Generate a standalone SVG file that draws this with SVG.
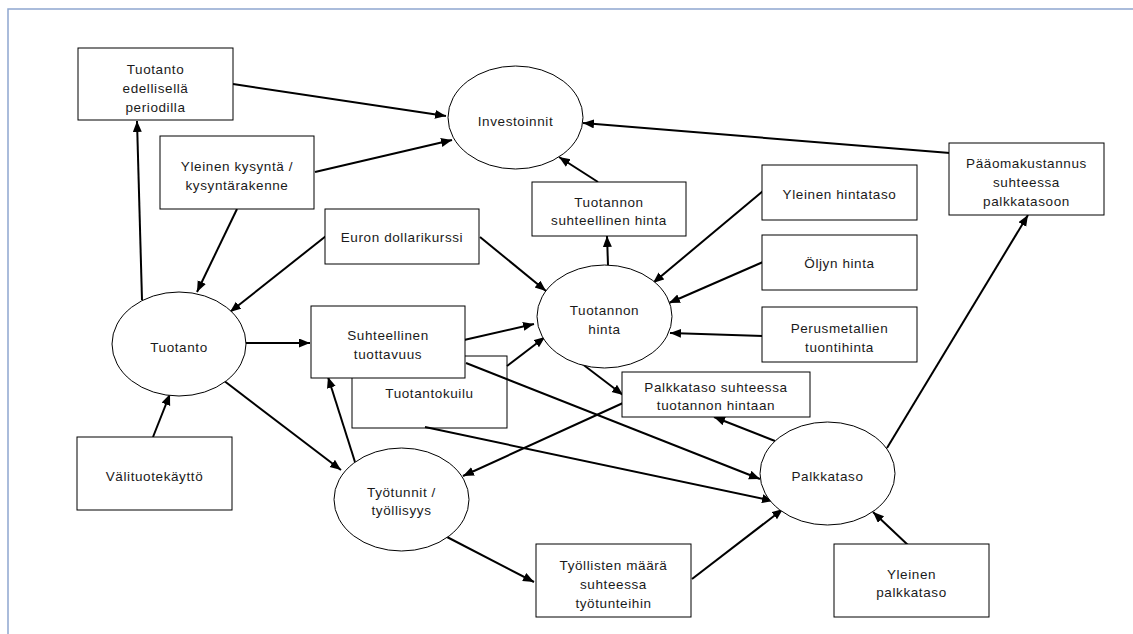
<svg xmlns="http://www.w3.org/2000/svg" width="1133" height="634" viewBox="0 0 1133 634">
<style>
.b{fill:#fff;stroke:#000;stroke-width:1}
.t{font-family:"Liberation Sans",Arial,sans-serif;font-size:13.5px;letter-spacing:0.6px;fill:#1a1a1a;text-anchor:middle}
.c{stroke:#000;stroke-width:2;fill:none;marker-end:url(#ah)}
</style>
<defs>
<marker id="ah" markerUnits="userSpaceOnUse" markerWidth="12" markerHeight="10" refX="11" refY="4.5" orient="auto">
<path d="M0,0 L11,4.5 L0,9 z" fill="#000"/>
</marker>
</defs>
<rect width="1133" height="634" fill="#fff"/>
<path d="M8,634 L8,9 L1133,9" fill="none" stroke="#8fa7cf" stroke-width="1.5"/>

<g id="n-tuotantokuilu"><rect class="b" x="352" y="356" width="155" height="72"/><text class="t" x="429.5" y="398">Tuotantokuilu</text></g>

<g id="connectors">
<line class="c" x1="233" y1="84" x2="446" y2="116"/>
<line class="c" x1="315" y1="172" x2="452" y2="140"/>
<line class="c" x1="237" y1="209" x2="197" y2="292"/>
<line class="c" x1="326" y1="236" x2="230" y2="312"/>
<line class="c" x1="142" y1="300" x2="137" y2="121"/>
<line class="c" x1="480" y1="237" x2="546" y2="291"/>
<line class="c" x1="245" y1="343" x2="310" y2="343"/>
<line class="c" x1="464" y1="340" x2="534" y2="324"/>
<line class="c" x1="507" y1="366" x2="545" y2="337"/>
<line class="c" x1="608" y1="265" x2="607" y2="236"/>
<line class="c" x1="598" y1="182" x2="559" y2="157"/>
<line class="c" x1="950" y1="153" x2="583" y2="123"/>
<line class="c" x1="763" y1="191" x2="653" y2="283"/>
<line class="c" x1="763" y1="262" x2="669" y2="303"/>
<line class="c" x1="763" y1="336" x2="670" y2="333"/>
<line class="c" x1="581" y1="363" x2="623" y2="395"/>
<line class="c" x1="623" y1="403" x2="463" y2="476"/>
<line class="c" x1="466" y1="363" x2="760" y2="479"/>
<line class="c" x1="425" y1="427" x2="773" y2="501"/>
<line class="c" x1="223" y1="380" x2="341" y2="470"/>
<line class="c" x1="355" y1="462" x2="328" y2="377"/>
<line class="c" x1="153" y1="437" x2="170" y2="394"/>
<line class="c" x1="447" y1="537" x2="534" y2="582"/>
<line class="c" x1="692" y1="579" x2="783" y2="509"/>
<line class="c" x1="775" y1="441" x2="714" y2="417"/>
<line class="c" x1="887" y1="448" x2="1028" y2="215"/>
<line class="c" x1="909" y1="546" x2="873" y2="512"/>
</g>

<g id="n-tuotanto-edellisella"><rect class="b" x="78" y="48" width="155" height="72"/><text class="t" x="155.5" y="74">Tuotanto</text><text class="t" x="155.5" y="93">edellisellä</text><text class="t" x="155.5" y="112">periodilla</text></g>
<g id="n-yleinen-kysynta"><rect class="b" x="160" y="136" width="154" height="73"/><text class="t" x="237" y="171">Yleinen kysyntä /</text><text class="t" x="237" y="190">kysyntärakenne</text></g>
<g id="n-investoinnit"><ellipse class="b" cx="515.5" cy="117.5" rx="67.5" ry="51.5"/><text class="t" x="515.5" y="126">Investoinnit</text></g>
<g id="n-tuotannon-suht-hinta"><rect class="b" x="532" y="182" width="154" height="54"/><text class="t" x="609" y="207">Tuotannon</text><text class="t" x="609" y="225">suhteellinen hinta</text></g>
<g id="n-paaomakustannus"><rect class="b" x="949" y="143" width="155" height="72"/><text class="t" x="1026.5" y="168">Pääomakustannus</text><text class="t" x="1026.5" y="187">suhteessa</text><text class="t" x="1026.5" y="206">palkkatasoon</text></g>
<g id="n-euron"><rect class="b" x="325" y="209" width="154" height="55"/><text class="t" x="402" y="242">Euron dollarikurssi</text></g>
<g id="n-yleinen-hintataso"><rect class="b" x="762" y="165" width="155" height="55"/><text class="t" x="839.5" y="199">Yleinen hintataso</text></g>
<g id="n-oljyn-hinta"><rect class="b" x="762" y="235" width="155" height="55"/><text class="t" x="839.5" y="268">Öljyn hinta</text></g>
<g id="n-perusmetallien"><rect class="b" x="762" y="307" width="155" height="55"/><text class="t" x="839.5" y="333">Perusmetallien</text><text class="t" x="839.5" y="352">tuontihinta</text></g>
<g id="n-tuotanto"><ellipse class="b" cx="179" cy="344" rx="67" ry="52"/><text class="t" x="179" y="352">Tuotanto</text></g>
<g id="n-suhteellinen-tuottavuus"><rect class="b" x="311" y="306" width="154" height="72"/><text class="t" x="388" y="340">Suhteellinen</text><text class="t" x="388" y="359">tuottavuus</text></g>
<g id="n-tuotannon-hinta"><ellipse class="b" cx="604.5" cy="316.5" rx="67.5" ry="51.5"/><text class="t" x="604.5" y="315">Tuotannon</text><text class="t" x="604.5" y="334">hinta</text></g>
<g id="n-palkkataso-suhteessa"><rect class="b" x="622" y="372" width="188" height="45"/><text class="t" x="716" y="392">Palkkataso suhteessa</text><text class="t" x="716" y="410">tuotannon hintaan</text></g>
<g id="n-palkkataso"><ellipse class="b" cx="827.5" cy="473.5" rx="67.5" ry="51.5"/><text class="t" x="827.5" y="481">Palkkataso</text></g>
<g id="n-tyotunnit"><ellipse class="b" cx="401.5" cy="499.5" rx="67.5" ry="51.5"/><text class="t" x="401.5" y="497">Työtunnit /</text><text class="t" x="401.5" y="515">työllisyys</text></g>
<g id="n-valituotekaytto"><rect class="b" x="77" y="437" width="155" height="73"/><text class="t" x="154.5" y="481">Välituotekäyttö</text></g>
<g id="n-tyollisten-maara"><rect class="b" x="536" y="544" width="155" height="73"/><text class="t" x="613.5" y="570">Työllisten määrä</text><text class="t" x="613.5" y="589">suhteessa</text><text class="t" x="613.5" y="608">työtunteihin</text></g>
<g id="n-yleinen-palkkataso"><rect class="b" x="834" y="544" width="155" height="73"/><text class="t" x="911.5" y="579">Yleinen</text><text class="t" x="911.5" y="597">palkkataso</text></g>
</svg>
